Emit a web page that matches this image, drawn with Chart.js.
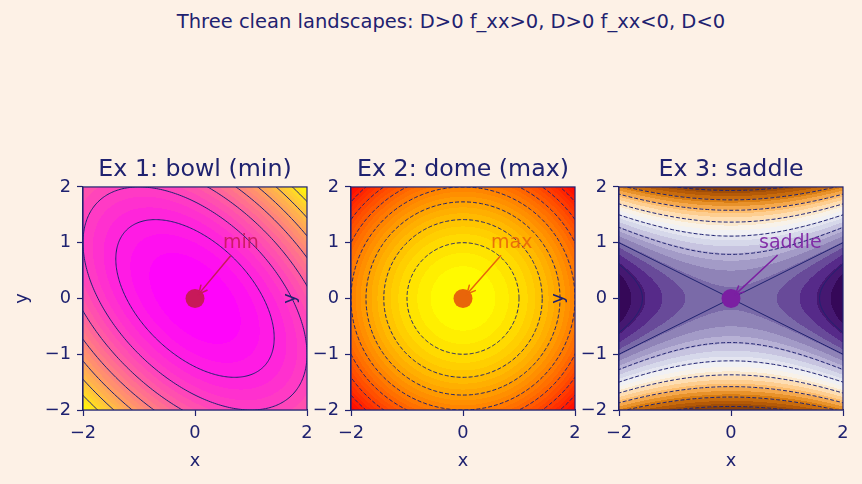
<!DOCTYPE html>
<html><head><meta charset="utf-8">
<script src="https://cdn.jsdelivr.net/npm/chart.js@4.4.1/dist/chart.umd.min.js"></script>
<style>
html,body{margin:0;padding:0;background:#fdf1e6;width:862px;height:484px;overflow:hidden;position:relative;}
#sup{position:absolute;left:0;top:10px;width:902px;text-align:center;font-family:'DejaVu Sans';font-size:19.5px;color:#1f2270;white-space:nowrap;}
canvas.c{position:absolute;top:130px;}
</style></head><body>
<div id="sup">Three clean landscapes: D&gt;0 f_xx&gt;0, D&gt;0 f_xx&lt;0, D&lt;0</div>
<canvas id="c0" class="c" width="327" height="354" style="left:0px;width:327px;height:354px"></canvas>
<canvas id="c1" class="c" width="327" height="354" style="left:268px;width:327px;height:354px"></canvas>
<canvas id="c2" class="c" width="327" height="354" style="left:536px;width:327px;height:354px"></canvas>
<script>
// ---------- data ----------
const categories = ['Ex 1: bowl (min)', 'Ex 2: dome (max)', 'Ex 3: saddle'];
// f(x,y) = a*x^2 + b*x*y + c*y^2
const coefXX = [1, -1, 1];
const coefXY = [1, 0, 0];
const coefYY = [1, -1, -4];
const fieldMin = [0, -8, -16];
const fieldMax = [12, 0, 4];
const lineLevels1 = [0, 1.5, 3, 4.5, 6, 7.5, 9, 10.5, 12];
const lineLevels2 = [-8, -7, -6, -5, -4, -3, -2, -1, 0];
const lineLevels3 = [-15, -12.5, -10, -7.5, -5, -2.5, 0, 2.5];
const criticalX = [0, 0, 0];
const criticalY = [0, 0, 0];
const annotLabels = ['min', 'max', 'saddle'];
const annotTextX = [0.5, 0.5, 0.5];
const annotTextY = [0.9, 0.9, 0.9];
const xTickValues = [-2, 0, 2];
const yTickValues = [-2, -1, 0, 1, 2];
const fillBandCount = 24;
</script>
<script>
const lineLevels = [lineLevels1, lineLevels2, lineLevels3];
const NAVY = '#1f2270';
const FONT = 'DejaVu Sans';
const markerColors = ['#c8195a', '#e8650a', '#7b1fa2'];

function hex(h){return [parseInt(h.substr(1,2),16),parseInt(h.substr(3,2),16),parseInt(h.substr(5,2),16)];}
const puorStops = ['#7f3b08','#b35806','#e08214','#fdb863','#fee0b6','#f7f7f7','#d8daeb','#b2abd2','#8073ac','#542788','#2d004b'].map(hex);
const cmaps = [
  t => [255, 255*t, 255*(1-t)],           // spring
  t => [255, 255*t, 0],                    // autumn
  t => { const s = t*10; let i = Math.floor(s); if (i >= 10) i = 9; const f = s - i;
         const A = puorStops[i], B = puorStops[i+1];
         return [A[0]+(B[0]-A[0])*f, A[1]+(B[1]-A[1])*f, A[2]+(B[2]-A[2])*f]; } // PuOr
];

function fval(k, x, y){ return coefXX[k]*x*x + coefXY[k]*x*y + coefYY[k]*y*y; }

function levelCurves(a, b, c, L){
  const tr = a + c, disc = Math.sqrt(((a-c)/2)**2 + (b/2)**2);
  const l1 = tr/2 + disc, l2 = tr/2 - disc;
  let v1;
  if (Math.abs(b) > 1e-12) { v1 = [b/2, l1 - a]; const n = Math.hypot(v1[0], v1[1]); v1 = [v1[0]/n, v1[1]/n]; }
  else v1 = (a >= c) ? [1,0] : [0,1];
  const v2 = [-v1[1], v1[0]];
  const P = (u,w) => [u*v1[0] + w*v2[0], u*v1[1] + w*v2[1]];
  const curves = [];
  if (l1*l2 > 0) {
    if (L/l1 <= 1e-12) return curves;
    const ru = Math.sqrt(L/l1), rw = Math.sqrt(L/l2);
    const pts = [];
    for (let i = 0; i <= 360; i++){ const t = i/360*2*Math.PI; pts.push(P(ru*Math.cos(t), rw*Math.sin(t))); }
    curves.push(pts);
  } else {
    if (Math.abs(L) < 1e-12) {
      const r = Math.sqrt(-l2/l1);
      for (const sg of [1,-1]) { curves.push([P(sg*r*-10, -10), P(0,0), P(sg*r*10, 10)]); }
    } else if (L > 0) {
      const ru = Math.sqrt(L/l1), rw = Math.sqrt(-L/l2);
      for (const sg of [1,-1]) { const pts=[]; for (let i=0;i<=600;i++){const s=-5+10*i/600; pts.push(P(sg*ru*Math.cosh(s), rw*Math.sinh(s)));} curves.push(pts); }
    } else {
      const rw = Math.sqrt(L/l2), ru = Math.sqrt(-L/l1);
      for (const sg of [1,-1]) { const pts=[]; for (let i=0;i<=600;i++){const s=-5+10*i/600; pts.push(P(ru*Math.sinh(s), sg*rw*Math.cosh(s)));} curves.push(pts); }
    }
  }
  return curves;
}

function fmt(v){ return v < 0 ? '\u2212' + Math.abs(v) : String(v); }

function makePlugin(k){
  return {
    id: 'field' + k,
    beforeDatasetsDraw(chart){
      const {ctx, chartArea: a} = chart, sx = chart.scales.x, sy = chart.scales.y;
      const L = Math.round(a.left), T = Math.round(a.top), W = Math.round(a.right) - L, H = Math.round(a.bottom) - T;
      const img = ctx.createImageData(W, H);
      const lo = fieldMin[k], hi = fieldMax[k], nb = fillBandCount;
      const cols = []; for (let i = 0; i < nb; i++) cols.push(cmaps[k]((i+0.5)/nb));
      for (let j = 0; j < H; j++){
        const yv = sy.getValueForPixel(T + j + 0.5);
        for (let i = 0; i < W; i++){
          const xv = sx.getValueForPixel(L + i + 0.5);
          let b = Math.floor((fval(k, xv, yv) - lo)/(hi - lo)*nb);
          if (b < 0) b = 0; if (b >= nb) b = nb - 1;
          const c = cols[b], o = (j*W + i)*4;
          img.data[o] = c[0]; img.data[o+1] = c[1]; img.data[o+2] = c[2]; img.data[o+3] = 255;
        }
      }
      ctx.putImageData(img, L, T);
      ctx.save();
      ctx.beginPath(); ctx.rect(a.left, a.top, a.right - a.left, a.bottom - a.top); ctx.clip();
      ctx.strokeStyle = NAVY; ctx.globalAlpha = 1; ctx.lineWidth = 1;
      for (const lv of lineLevels[k]){
        const curves = levelCurves(coefXX[k], coefXY[k], coefYY[k], lv);
        ctx.setLineDash(lv < 0 ? [4, 2] : []);
        for (const pts of curves){
          ctx.beginPath();
          pts.forEach((p, i) => { const px = sx.getPixelForValue(p[0]), py = sy.getPixelForValue(p[1]);
            if (i === 0) ctx.moveTo(px, py); else ctx.lineTo(px, py); });
          ctx.stroke();
        }
      }
      ctx.restore();
    },
    afterDatasetsDraw(chart){
      const {ctx, chartArea: a} = chart, sx = chart.scales.x, sy = chart.scales.y;
      ctx.save();
      ctx.strokeStyle = NAVY; ctx.lineWidth = 1.2;
      ctx.strokeRect(a.left, a.top, a.right - a.left, a.bottom - a.top);
      // annotation
      const col = markerColors[k], fs = 19;
      ctx.font = fs + 'px "' + FONT + '"';
      ctx.fillStyle = col; ctx.strokeStyle = col;
      ctx.textAlign = 'left'; ctx.textBaseline = 'alphabetic';
      const tx = sx.getPixelForValue(annotTextX[k]), ty = sy.getPixelForValue(annotTextY[k]);
      ctx.globalAlpha = 0.9;
      ctx.fillText(annotLabels[k], tx, ty);
      ctx.globalAlpha = 1;
      const w = ctx.measureText(annotLabels[k]).width;
      const top = ty - 0.76*fs, bot = ty + 0.24*fs;
      const cx = tx + w/2, cy = (top + bot)/2;
      const px = sx.getPixelForValue(criticalX[k]), py = sy.getPixelForValue(criticalY[k]);
      let dx = px - cx, dy = py - cy;
      const tb = (bot - cy)/dy, tl = (tx - cx)/dx;
      const te = Math.min(tb > 0 ? tb : 1e9, tl > 0 ? tl : 1e9);
      const len = Math.hypot(dx, dy); const ux = dx/len, uy = dy/len;
      const sxp = cx + dx*te + ux*4, syp = cy + dy*te + uy*4;
      const ex = px - ux*6, ey = py - uy*6;
      ctx.lineWidth = 1.5; ctx.lineCap = 'round';
      ctx.beginPath(); ctx.moveTo(sxp, syp); ctx.lineTo(ex, ey); ctx.stroke();
      const hl = 8, hw = 4;
      ctx.beginPath();
      ctx.moveTo(ex - ux*hl - uy*hw, ey - uy*hl + ux*hw); ctx.lineTo(ex, ey);
      ctx.lineTo(ex - ux*hl + uy*hw, ey - uy*hl - ux*hw); ctx.stroke();
      ctx.restore();
    }
  };
}

function axis(which, k){
  const isX = which === 'x';
  const tv = isX ? xTickValues : yTickValues;
  return {
    type: 'linear', min: -2, max: 2,
    afterBuildTicks: s => { s.ticks = tv.map(v => ({value: v})); },
    afterFit: s => { if (isX) s.height = 74; else s.width = 83; },
    grid: { drawOnChartArea: false, drawTicks: true, tickLength: 6, tickWidth: 1.2, tickColor: NAVY },
    border: { display: true, color: NAVY, width: 1.2 },
    ticks: { color: NAVY, font: { family: FONT, size: 17.8 }, padding: isX ? 7 : 6,
             callback: v => fmt(v), maxRotation: 0, autoSkip: false },
    title: { display: true, text: which, color: NAVY, font: { family: FONT, size: 17.8 },
             padding: isX ? { top: 0, bottom: 12 } : { top: 12, bottom: 0 } }
  };
}

for (let k = 0; k < 3; k++){
  new Chart(document.getElementById('c' + k), {
    type: 'scatter',
    data: { datasets: [{ data: [{ x: criticalX[k], y: criticalY[k] }], pointRadius: 9.5, pointHoverRadius: 9.5,
                         backgroundColor: markerColors[k], borderWidth: 0 }] },
    options: {
      responsive: false, animation: false, events: [],
      layout: { padding: { left: 0, right: 20, top: 0, bottom: 0 } },
      plugins: {
        legend: { display: false }, tooltip: { enabled: false },
        title: { display: true, text: categories[k], fullSize: false, color: NAVY,
                 font: { family: FONT, size: 23.7, weight: 'normal' }, padding: { top: 25.5, bottom: 3 } }
      },
      scales: { x: axis('x', k), y: axis('y', k) }
    },
    plugins: [makePlugin(k)]
  });
}
</script>
</body></html>
